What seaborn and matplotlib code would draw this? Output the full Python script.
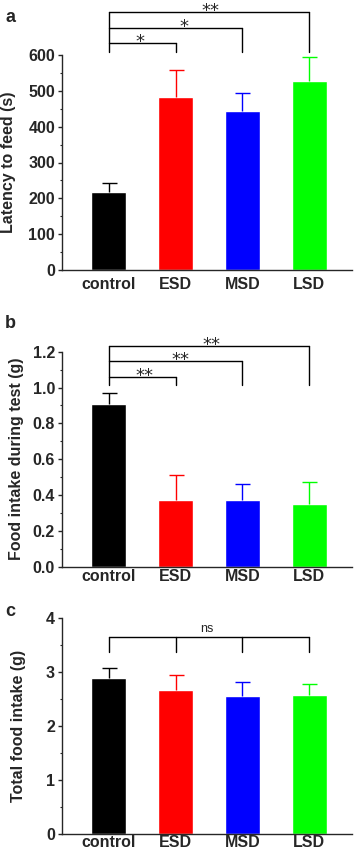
import numpy as np
import pandas as pd
import matplotlib
matplotlib.use('Agg')
import matplotlib.pyplot as plt
from matplotlib.ticker import MultipleLocator, FormatStrFormatter
import seaborn as sns

# groups and bar colours
groups = ['control', 'ESD', 'MSD', 'LSD']
bar_colors = ['#000000', '#FF0000', '#0000FF', '#00FF00']

# panel a: latency to feed (s), mean + SEM
latency_mean = [218, 484, 445, 528]
latency_sem = [24, 74, 50, 66]

# panel b: food intake during test (g)
test_intake_mean = [0.91, 0.37, 0.37, 0.35]
test_intake_sem = [0.06, 0.14, 0.09, 0.12]

# panel c: total food intake (g)
total_intake_mean = [2.89, 2.67, 2.55, 2.57]
total_intake_sem = [0.18, 0.27, 0.26, 0.22]

# significance marks (control vs ESD, MSD, LSD)
sig_a = ['*', '*', '**']
sig_b = ['**', '**', '**']
sig_c = 'ns'

sns.set_style('ticks')
plt.rcParams['font.family'] = ['Liberation Sans', 'DejaVu Sans']
plt.rcParams['font.weight'] = 'bold'
plt.rcParams['axes.labelweight'] = 'bold'
plt.rcParams['axes.linewidth'] = 1.0

fig = plt.figure(figsize=(3.58, 8.52), dpi=100)
W, H = 358, 852
FS = 11.5


def make_axes(left, zero_y, height):
    return fig.add_axes([left / W, (H - zero_y) / H, 290 / W, height / H])


def draw_panel(ax, means, sems, ytop, major, minor, fmt, ylabel, label_x,
               letter, letter_y, xpad):
    df = pd.DataFrame({'group': groups, 'value': means})
    sns.barplot(data=df, x='group', y='value', hue='group', palette=bar_colors,
                width=0.52, saturation=1, legend=False, errorbar=None, ax=ax)
    # upper-only error bars in the bar colour
    for i, (m, s) in enumerate(zip(means, sems)):
        eb = ax.errorbar(i, m, yerr=[[0], [s]], fmt='none', ecolor=bar_colors[i],
                         elinewidth=1.0, capsize=5.4, capthick=1.0, zorder=3)
        eb[1][0].set_visible(False)
    ax.set_xlim(-0.7, 3.64)
    ax.set_ylim(0, ytop)
    ax.yaxis.set_major_locator(MultipleLocator(major))
    ax.yaxis.set_minor_locator(MultipleLocator(minor))
    ax.yaxis.set_major_formatter(FormatStrFormatter(fmt))
    ax.tick_params(axis='y', which='major', length=3, width=1.0, pad=2, labelsize=FS)
    ax.tick_params(axis='y', which='minor', length=1.5, width=0.8)
    ax.tick_params(axis='x', length=0, pad=xpad, labelsize=FS)
    ax.set_xlabel('')
    ax.set_ylabel(ylabel, fontsize=FS)
    ax.yaxis.set_label_coords(label_x, 0.5)
    for sp in ['top', 'right']:
        ax.spines[sp].set_visible(False)
    fig.text(5 / W, 1 - letter_y / H, letter, fontsize=13, fontweight='bold',
             ha='left', va='center')


def stars(ax, x, y, s):
    ax.annotate(s, xy=(x, y), xytext=(0, -3), textcoords='offset points',
                ha='center', va='baseline', fontsize=13, family='DejaVu Sans',
                fontweight='normal', annotation_clip=False)


def line(ax, xs, ys):
    ax.plot(xs, ys, color='black', lw=1.0, clip_on=False)


# ---- panel a
ax_a = make_axes(62, 270, 215)
draw_panel(ax_a, latency_mean, latency_sem, 600, 100, 50, '%d',
           'Latency to feed (s)', -0.157, 'a', 18, 5)
levels_a = [633, 675, 720]
star_x_a = [0.46, 1.13, 1.52]
line(ax_a, [0, 0], [608, levels_a[-1]])
for k in range(3):
    line(ax_a, [0, k + 1], [levels_a[k], levels_a[k]])
    line(ax_a, [k + 1, k + 1], [608, levels_a[k]])
    stars(ax_a, star_x_a[k], levels_a[k], sig_a[k])

# ---- panel b
ax_b = make_axes(62, 566.7, 215)
draw_panel(ax_b, test_intake_mean, test_intake_sem, 1.2, 0.2, 0.1, '%.1f',
           'Food intake during test (g)', -0.130, 'b', 324, 1.5)
levels_b = [1.060, 1.148, 1.233]
star_x_b = [0.54, 1.07, 1.53]
line(ax_b, [0, 0], [1.014, levels_b[-1]])
for k in range(3):
    line(ax_b, [0, k + 1], [levels_b[k], levels_b[k]])
    line(ax_b, [k + 1, k + 1], [1.014, levels_b[k]])
    stars(ax_b, star_x_b[k], levels_b[k], sig_b[k])

# ---- panel c
ax_c = make_axes(62, 834, 215.7)
draw_panel(ax_c, total_intake_mean, total_intake_sem, 4, 1, 0.5, '%d',
           'Total food intake (g)', -0.123, 'c', 611, 1.0)
line(ax_c, [0, 3], [3.648, 3.648])
for k in range(4):
    line(ax_c, [k, k], [3.381, 3.648])
ax_c.text(1.47, 3.69, sig_c, ha='center', va='bottom', fontsize=9, fontweight='normal')

fig.savefig('out.png', dpi=100)
plt.close('all')
